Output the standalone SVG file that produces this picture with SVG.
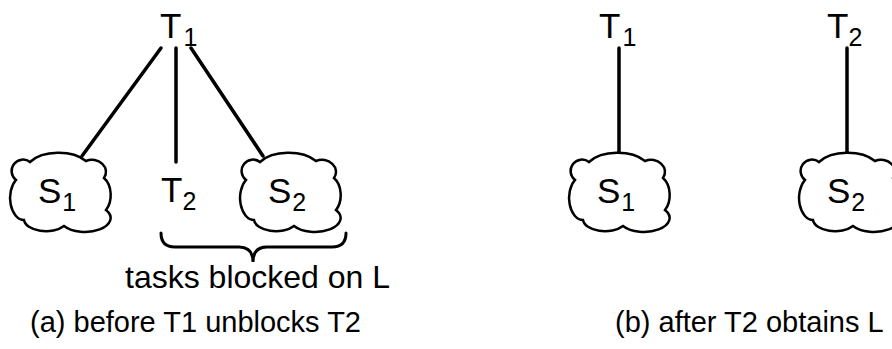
<svg xmlns="http://www.w3.org/2000/svg" width="892" height="349" viewBox="0 0 892 349">
<defs>
<style>
text{font-family:"Liberation Sans",Arial,sans-serif;fill:#000}
.lbl{font-size:35px}
.sub{font-size:25px}
.cap{font-size:29px}
.note{font-size:32px}
.edge{stroke:#000;stroke-width:3.5;fill:none;stroke-linecap:round}
.cloud{stroke:#000;stroke-width:2.5;fill:#fff}
</style>
<path id="cloudshape" d="M -30,-30 A 34 20 0 0 1 26,-31 A 14 12 0 0 1 44,-14 A 14 20 0 0 1 46,18 A 22 12 0 0 1 4,34 A 22 12 0 0 1 -36,28 A 14 22 0 0 1 -44,-12 A 10 10 0 0 1 -30,-30 Z"/>
</defs>
<rect width="892" height="349" fill="#fff"/>
<g id="connectors">
<line class="edge" x1="161" y1="48" x2="82" y2="156"/>
<line class="edge" x1="176" y1="48" x2="176" y2="162"/>
<line class="edge" x1="191" y1="48" x2="263" y2="156"/>
<line class="edge" x1="619" y1="48" x2="619" y2="154"/>
<line class="edge" x1="847" y1="48" x2="847" y2="154"/>
</g>
<g id="a-T1"><text class="lbl" x="160" y="38">T<tspan class="sub" dx="2" dy="8">1</tspan></text></g>
<g id="a-T2"><text class="lbl" x="161" y="202">T<tspan class="sub" dx="0" dy="8">2</tspan></text></g>
<g id="a-S1"><use href="#cloudshape" class="cloud" transform="translate(60,192)"/><text class="lbl" x="38" y="203">S<tspan class="sub" dx="1" dy="8">1</tspan></text></g>
<g id="a-S2"><use href="#cloudshape" class="cloud" transform="translate(290,192)"/><text class="lbl" x="268" y="203">S<tspan class="sub" dx="1" dy="8">2</tspan></text></g>
<g id="brace"><path class="edge" style="stroke-width:3" d="M161,233 Q161,247 175,247 L239,247 Q253,247 253,262 Q253,247 267,247 L332,247 Q346,247 346,233"/></g>
<g id="note"><text class="note" x="125" y="288">tasks blocked on L</text></g>
<g id="cap-a"><text class="cap" x="30" y="332">(a) before T1 unblocks T2</text></g>
<g id="b-T1"><text class="lbl" x="599" y="38">T<tspan class="sub" dx="2" dy="8">1</tspan></text></g>
<g id="b-T2"><text class="lbl" x="827" y="38">T<tspan class="sub" dx="0" dy="8">2</tspan></text></g>
<g id="b-S1"><use href="#cloudshape" class="cloud" transform="translate(619,192)"/><text class="lbl" x="597" y="203">S<tspan class="sub" dx="1" dy="8">1</tspan></text></g>
<g id="b-S2"><use href="#cloudshape" class="cloud" transform="translate(849,192)"/><text class="lbl" x="827" y="203">S<tspan class="sub" dx="1" dy="8">2</tspan></text></g>
<g id="cap-b"><text class="cap" x="615" y="332">(b) after T2 obtains L</text></g>
</svg>
